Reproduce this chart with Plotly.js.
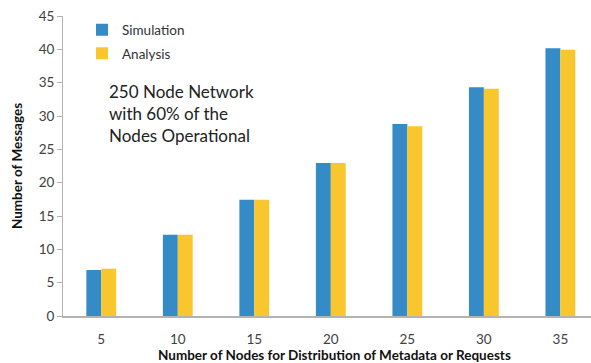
<!DOCTYPE html>
<html>
<head>
<meta charset="utf-8">
<script src="https://cdn.plot.ly/plotly-3.0.1.min.js"></script>
<style>html,body{margin:0;padding:0;background:#fff;}#chart{width:591px;height:363px;}</style>
</head>
<body>
<div id="chart"></div>
<script>
const categories = ['5', '10', '15', '20', '25', '30', '35'];
const simulation = [6.9, 12.2, 17.45, 22.95, 28.8, 34.3, 40.15];
const analysis = [7.1, 12.2, 17.45, 22.95, 28.45, 34.1, 39.95];
const yTicks = [0, 5, 10, 15, 20, 25, 30, 35, 40, 45];
const xTitle = 'Number of Nodes for Distribution of Metadata or Requests';
const yTitle = 'Number of Messages';
const note = '250 Node Network<br>with 60% of the<br>Nodes Operational';

const FONT = 'Lato, "Open Sans", sans-serif';

const traces = [
  {type: 'bar', name: 'Simulation', x: categories, y: simulation, legendgroup: 'sim',
   marker: {color: 'rgb(53,139,197)'}},
  {type: 'bar', name: 'Analysis', x: categories, y: analysis, legendgroup: 'ana',
   marker: {color: 'rgb(250,198,45)'}}
];

const layout = {
  width: 591, height: 363,
  margin: {l: 63, r: 0, t: 16, b: 47, pad: 0},
  paper_bgcolor: '#fff', plot_bgcolor: '#fff',
  font: {family: FONT, color: '#404040', size: 13},
  barmode: 'group', bargap: 0.61, bargroupgap: 0,
  showlegend: true,
  legend: {x: 0.036, y: 1.005, xanchor: 'left', yanchor: 'top', bgcolor: 'rgba(0,0,0,0)',
           traceorder: 'grouped', tracegroupgap: 3,
           font: {family: FONT, size: 13.5, color: '#333'}, itemwidth: 30},
  xaxis: {type: 'category', range: [-0.5, 6.4], showgrid: false, zeroline: false,
          showline: true, linecolor: '#b3b3b3', linewidth: 2, ticks: '', ticklabelstandoff: 10,
          tickfont: {family: FONT, size: 13.5, color: '#404040'}},
  yaxis: {range: [0, 45], tickvals: yTicks, showgrid: false, zeroline: false,
          showline: true, linecolor: '#b3b3b3', linewidth: 1, ticks: 'outside', ticklen: 5,
          tickcolor: '#b3b3b3', tickfont: {family: FONT, size: 13.5, color: '#404040'},
          title: {text: yTitle, standoff: 12,
                  font: {family: FONT, size: 13.5, color: '#111', weight: 'bold'}}},
  annotations: [
    {xref: 'paper', yref: 'paper', x: 0.515, y: -0.131, xanchor: 'center', yanchor: 'middle',
     showarrow: false, text: '<b>' + xTitle + '</b>',
     font: {family: FONT, size: 13.5, color: '#111'}},
    {xref: 'paper', yref: 'paper', x: 0.083, y: 0.79, xanchor: 'left', yanchor: 'top',
     align: 'left', showarrow: false, text: note,
     font: {family: FONT, size: 17, color: '#222'}}
  ]
};

Plotly.newPlot('chart', traces, layout, {displayModeBar: false, staticPlot: true});
</script>
</body>
</html>
